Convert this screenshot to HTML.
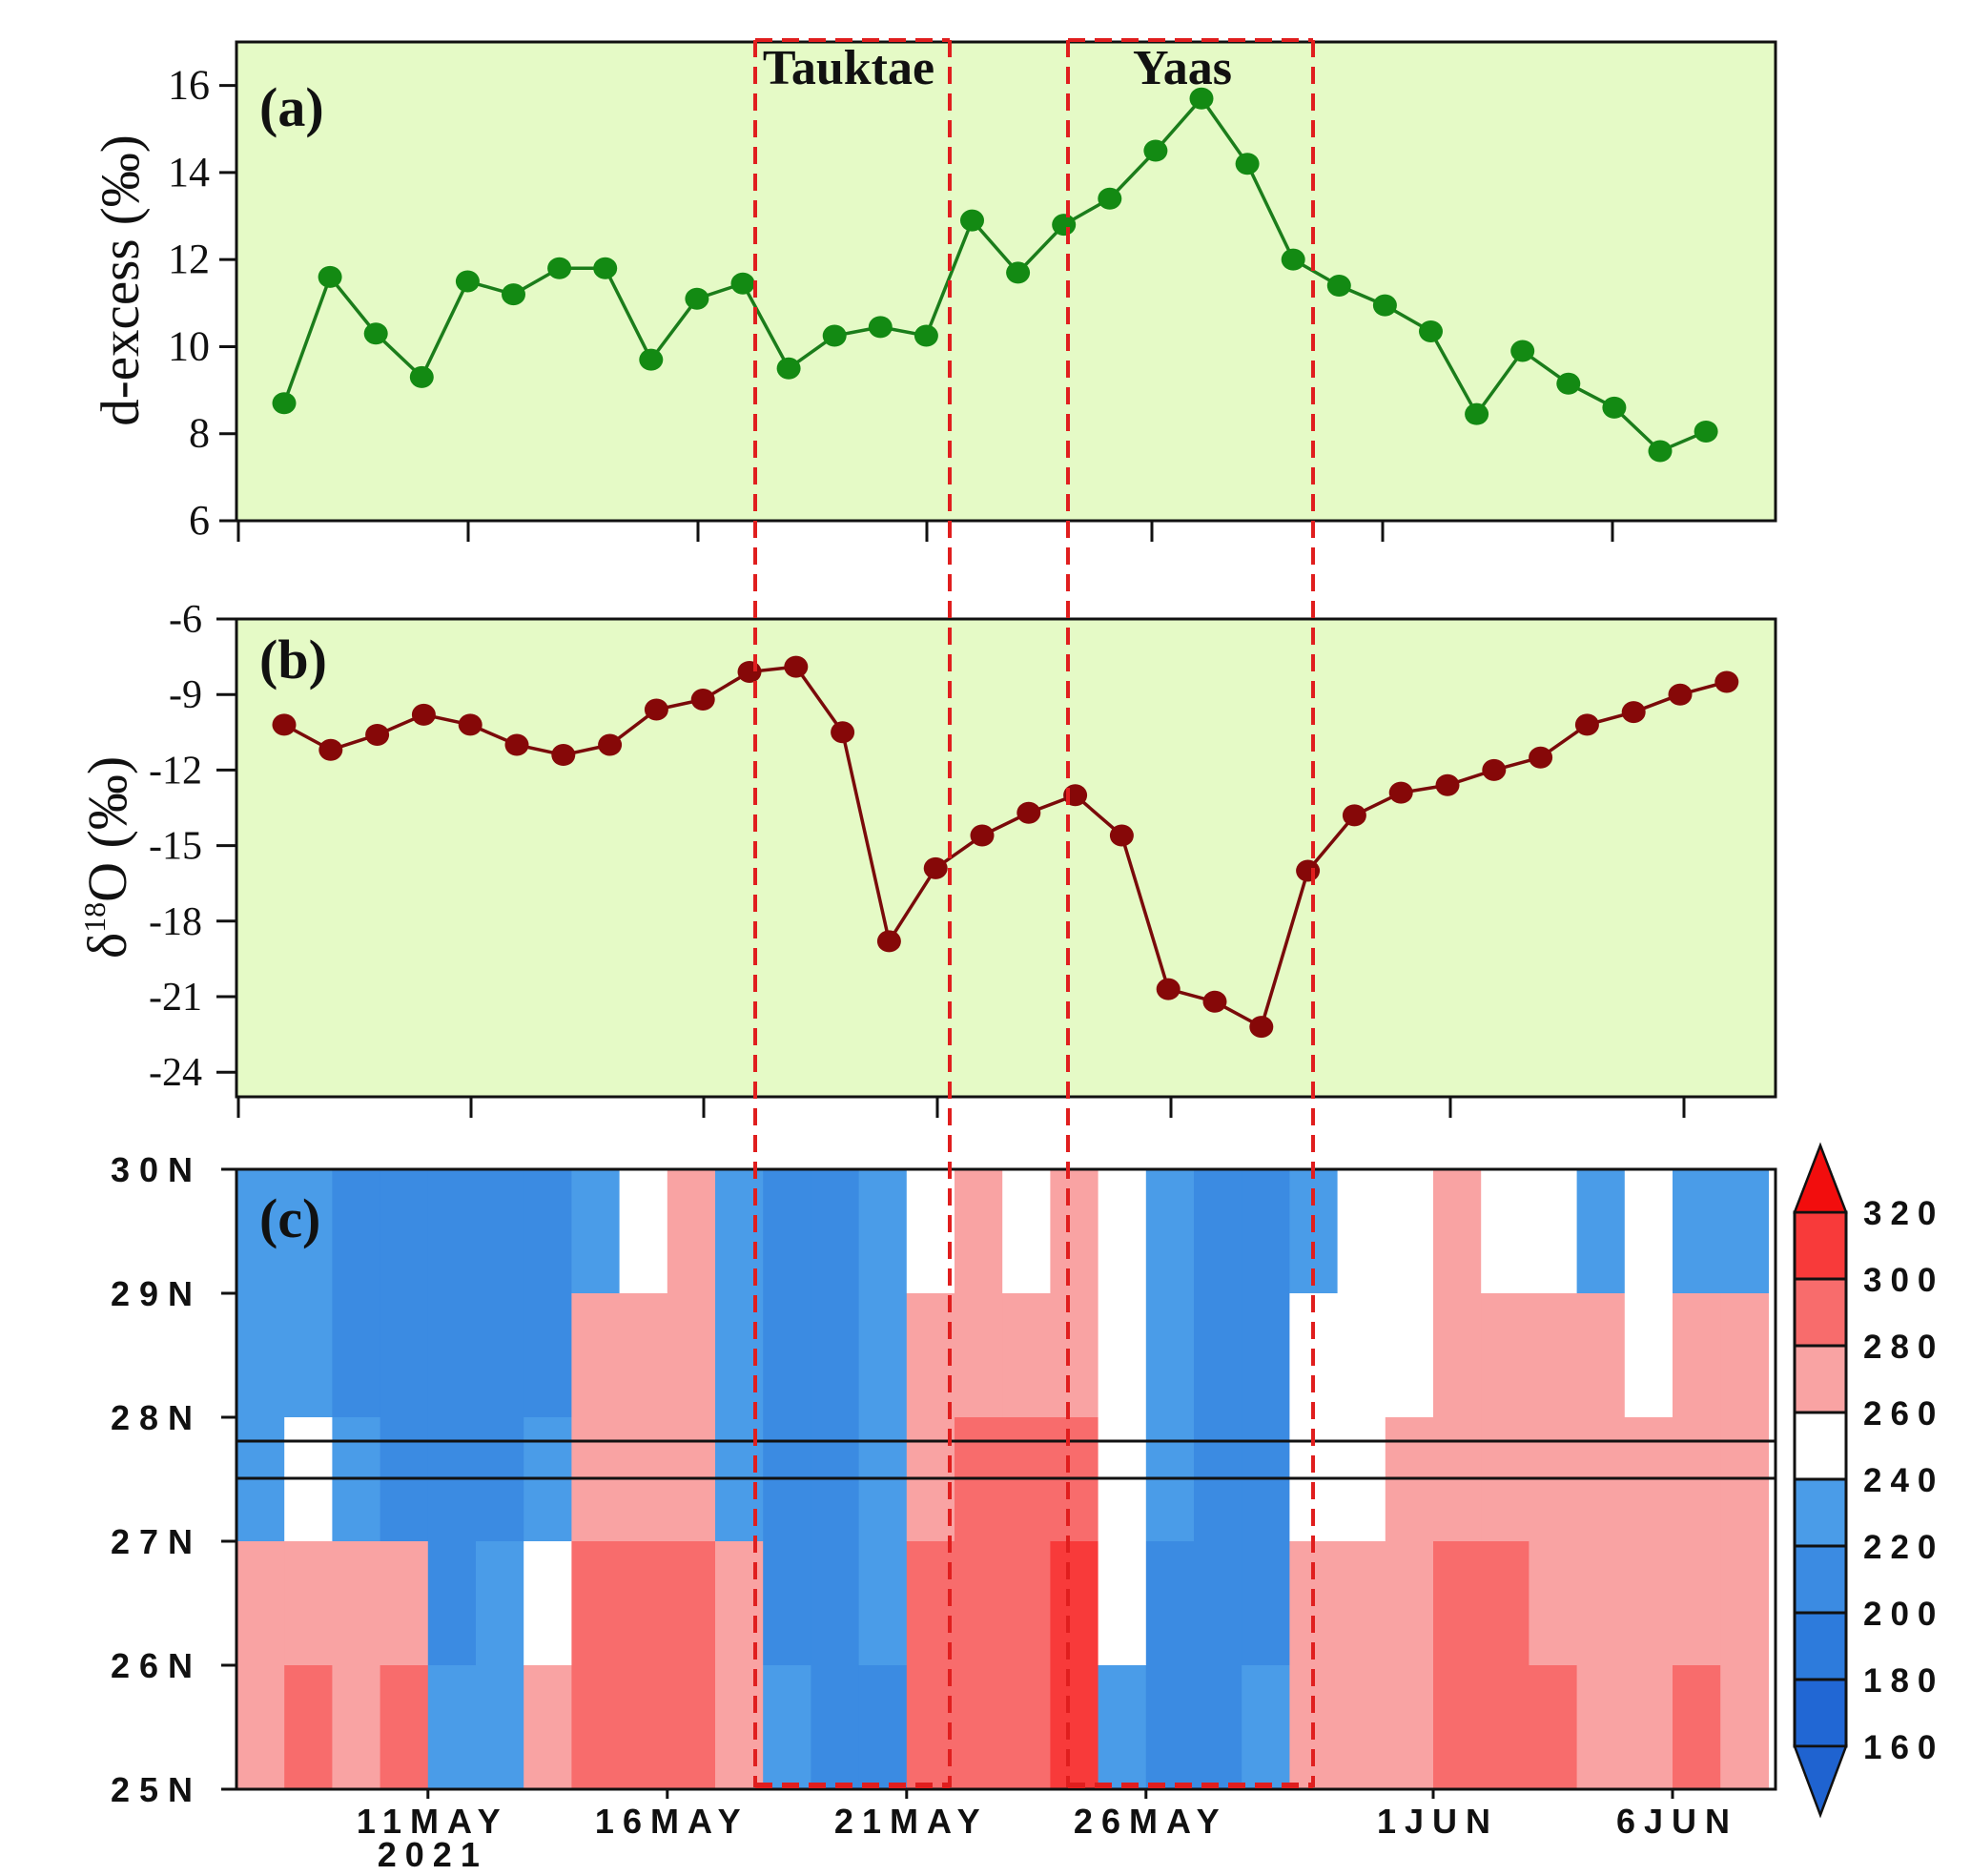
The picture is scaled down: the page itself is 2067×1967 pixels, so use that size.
<!DOCTYPE html>
<html><head><meta charset="utf-8"><style>
html,body{margin:0;padding:0;background:#fff;}
svg{display:block;}
.ser{font-family:"Liberation Serif",serif;}
.grd{font-family:"Liberation Sans",sans-serif;}
</style></head><body>
<svg id="fig" width="2067" height="1967" viewBox="0 0 2067 1967" xmlns="http://www.w3.org/2000/svg">
<g id="panelA"></g>
<g id="panelB"></g>
<g id="panelC"></g>
<g id="overlay"></g>
</svg>
<script>
// ---- data ----
const dexcess = [8.7,11.6,10.3,9.3,11.5,11.2,11.8,11.8,9.7,11.1,11.45,9.5,10.25,10.45,10.25,12.9,11.7,12.8,13.4,14.5,15.7,14.2,12.0,11.4,10.95,10.35,8.45,9.9,9.15,8.6,7.6,8.05];
const d18o = [-10.2,-11.2,-10.6,-9.8,-10.2,-11.0,-11.4,-11.0,-9.6,-9.2,-8.1,-7.9,-10.5,-18.8,-15.9,-14.6,-13.7,-13.0,-14.6,-20.7,-21.2,-22.2,-16.0,-13.8,-12.9,-12.6,-12.0,-11.5,-10.2,-9.7,-9.0,-8.5];
const aTicks = [6,8,10,12,14,16];
const bTicks = [-6,-9,-12,-15,-18,-21,-24];
const latLabels = ["30N","29N","28N","27N","26N","25N"];
const latVals = [30,29,28,27,26,25];
const dateLabels = ["11MAY","16MAY","21MAY","26MAY","1JUN","6JUN"];
const dateDays = [4,9,14,19,25,30]; // days after 7 May
const olrRow1 = [225,220,210,210,200,205,215,230,255,265,230,215,210,235,250,265,245,260,245,225,205,210,230,240,250,262,258,240,235,240,230,230];
const olrRow2 = [225,230,215,210,200,205,215,262,270,270,228,215,210,228,262,272,268,272,250,222,205,210,245,250,255,265,268,262,262,258,262,262];
const olrRow3 = [235,245,225,215,205,210,225,268,275,275,230,215,210,225,270,280,280,285,248,220,205,212,255,258,262,270,272,268,265,265,265,265];
const olrRow4 = [270,275,272,262,215,225,250,290,292,285,262,212,208,220,280,292,290,300,240,218,205,215,272,268,270,282,285,278,270,275,278,268];
const olrRow5 = [275,280,275,285,235,225,260,298,295,288,268,235,210,215,285,292,292,308,228,212,205,220,275,268,272,283,290,280,270,275,280,270];
const cbLevels = [160,180,200,220,240,260,280,300,320];

const NS="http://www.w3.org/2000/svg";
function mk(parent,tag,attrs,text){const e=document.createElementNS(NS,tag);for(const k in attrs)e.setAttribute(k,attrs[k]);if(text!==undefined)e.textContent=text;parent.appendChild(e);return e;}
function olrColor(v){
  if(v>=320)return"#f20d0d"; if(v>=300)return"#f83a3a"; if(v>=280)return"#f86c6c"; if(v>=260)return"#f9a3a3";
  if(v>=240)return"#ffffff"; if(v>=220)return"#4a9ce8"; if(v>=200)return"#3b8be2"; if(v>=180)return"#2d7bdc"; return"#2167d4";
}
const L=248,R=1862;
// ---- panel A ----
const A=document.getElementById('panelA');
const aTop=44,aBot=546;
const ya=v=>546-(v-6)*(546-89.6)/10;
const xa=i=>298+i*48.1;
let r=mk(A,'rect',{x:L,y:aTop,width:R-L,height:aBot-aTop,fill:'#e5fac6',stroke:'#111','stroke-width':3});

aTicks.forEach(t=>{mk(A,'line',{x1:230,x2:L,y1:ya(t),y2:ya(t),stroke:'#111','stroke-width':3});
 const tx=mk(A,'text',{x:220,y:ya(t)+14,'text-anchor':'end','font-size':44,class:'ser',fill:'#111'},String(t));
 });
[250,491,732,972,1208,1450,1691].forEach(x=>mk(A,'line',{x1:x,x2:x,y1:aBot,y2:568,stroke:'#111','stroke-width':3}));
let t=mk(A,'text',{x:0,y:0,transform:'translate(145,294) rotate(-90)','text-anchor':'middle','font-size':57,class:'ser',fill:'#111'},'d-excess (‰)');

t=mk(A,'text',{x:272,y:132,'font-size':58,'font-weight':'bold',class:'ser',fill:'#111'},'(a)');

let pa=dexcess.map((v,i)=>xa(i)+','+ya(v)).join(' ');
let pl=mk(A,'polyline',{points:pa,fill:'none',stroke:'#1b7d1b','stroke-width':3.5});

dexcess.forEach((v,i)=>{const c=mk(A,'ellipse',{cx:xa(i),cy:ya(v),rx:12.5,ry:11.5,fill:'#138a13'});
 });
// ---- panel B ----
const B=document.getElementById('panelB');
const bTop=649,bBot=1150;
const yb=v=>649+(-6-v)*79.2/3;
const xb=i=>298+i*48.8;
r=mk(B,'rect',{x:L,y:bTop,width:R-L,height:bBot-bTop,fill:'#e5fac6',stroke:'#111','stroke-width':3});

bTicks.forEach(v=>{mk(B,'line',{x1:227,x2:L,y1:yb(v),y2:yb(v),stroke:'#111','stroke-width':3});
 const tx=mk(B,'text',{x:212,y:yb(v)+14,'text-anchor':'end','font-size':42,class:'ser',fill:'#111'},String(v));
 });
[250,494,738,983,1228,1521,1766].forEach(x=>mk(B,'line',{x1:x,x2:x,y1:bBot,y2:1172,stroke:'#111','stroke-width':3}));
t=mk(B,'text',{x:0,y:0,transform:'translate(132,899) rotate(-90)','text-anchor':'middle','font-size':58,class:'ser',fill:'#111'});

mk(t,'tspan',{},'δ');mk(t,'tspan',{'font-size':32,dy:-22},'18');mk(t,'tspan',{dy:22},'O (‰)');
t=mk(B,'text',{x:272,y:711,'font-size':58,'font-weight':'bold',class:'ser',fill:'#111'},'(b)');

pl=mk(B,'polyline',{points:d18o.map((v,i)=>xb(i)+','+yb(v)).join(' '),fill:'none',stroke:'#7a0a0a','stroke-width':3.5});

d18o.forEach((v,i)=>{const c=mk(B,'ellipse',{cx:xb(i),cy:yb(v),rx:12.5,ry:11.5,fill:'#860808'});
 });
// ---- panel C ----
const C=document.getElementById('panelC');
const cTop=1226,cBot=1876,day=50.2;
const xc=d=>L+d*day;
const yc=lat=>cTop+(30-lat)*130;
const rows=[olrRow1,olrRow2,olrRow3,olrRow4,olrRow5];
rows.forEach((row,ri)=>{row.forEach((v,di)=>{
 const x0=xc(di), x1=Math.min(xc(di+1),R);
 const c=mk(C,'rect',{x:x0,y:yc(30-ri),width:x1-x0+0.6,height:130.6,fill:olrColor(v)});
 });});
mk(C,'rect',{x:L,y:cTop,width:R-L,height:cBot-cTop,fill:'none',stroke:'#111','stroke-width':3});
[1511,1550].forEach(y=>{const l=mk(C,'line',{x1:L,x2:R,y1:y,y2:y,stroke:'#111','stroke-width':3});
 });
latVals.forEach((lat,i)=>{mk(C,'line',{x1:232,x2:L,y1:yc(lat),y2:yc(lat),stroke:'#111','stroke-width':3});
 const tx=mk(C,'text',{x:212,y:yc(lat)+13,'text-anchor':'end','font-size':36,'font-weight':'bold',class:'grd',fill:'#111','letter-spacing':10},latLabels[i]);
 });
dateDays.forEach((d,i)=>{mk(C,'line',{x1:xc(d),x2:xc(d),y1:cBot,y2:cBot+10,stroke:'#111','stroke-width':3});
 const tx=mk(C,'text',{x:xc(d)+5,y:1922,'text-anchor':'middle','font-size':36,'font-weight':'bold',class:'grd',fill:'#111','letter-spacing':9},dateLabels[i]);
 });
t=mk(C,'text',{x:xc(4)+5,y:1957,'text-anchor':'middle','font-size':36,'font-weight':'bold',class:'grd',fill:'#111','letter-spacing':9},'2021');

t=mk(C,'text',{x:272,y:1297,'font-size':58,'font-weight':'bold',class:'ser',fill:'#111'},'(c)');

// colorbar
const cbx=1882,cbw=54,cbTop=1271,step=70;
const cbY=v=>cbTop+(320-v)/20*step;
const cb=mk(C,'g',{});

for(let i=0;i<cbLevels.length-1;i++){const lo=cbLevels[i],hi=cbLevels[i+1];
 mk(cb,'rect',{x:cbx,y:cbY(hi),width:cbw,height:step,fill:olrColor(lo+1),stroke:'#111','stroke-width':3});}
mk(cb,'polygon',{points:`${cbx},${cbY(320)} ${cbx+cbw},${cbY(320)} ${cbx+cbw/2},1201`,fill:'#f20d0d',stroke:'#111','stroke-width':2.5});
mk(cb,'polygon',{points:`${cbx},${cbY(160)} ${cbx+cbw},${cbY(160)} ${cbx+cbw/2},1903`,fill:'#1f63d0',stroke:'#111','stroke-width':2.5});
cbLevels.forEach(v=>{const tx=mk(cb,'text',{x:1954,y:cbY(v)+13,'font-size':35,'font-weight':'bold',class:'grd',fill:'#111','letter-spacing':9},String(v));
 });
// ---- overlay boxes ----
const O=document.getElementById('overlay');
function box(x1,x2,label,lx,name){
 const g=mk(O,'g',{});
 const st={stroke:'#e01e1e','stroke-width':4,'stroke-dasharray':'18 10',fill:'none'};
 mk(g,'line',Object.assign({x1:x1,x2:x1,y1:42,y2:1874},st));
 mk(g,'line',Object.assign({x1:x2,x2:x2,y1:42,y2:1874},st));
 mk(g,'line',Object.assign({x1:x1,x2:x2,y1:42,y2:42},st));
 mk(g,'line',Object.assign({x1:x1,x2:x2,y1:1872,y2:1872},st,{'stroke-width':6}));
 const tx=mk(g,'text',{x:lx,y:88,'text-anchor':'middle','font-size':52,'font-weight':'bold',class:'ser',fill:'#111'},label);
 
}
box(792,996,'Tauktae',890,'tauktae-box');
box(1120,1377,'Yaas',1240,'yaas-box');
</script>
</body></html>
